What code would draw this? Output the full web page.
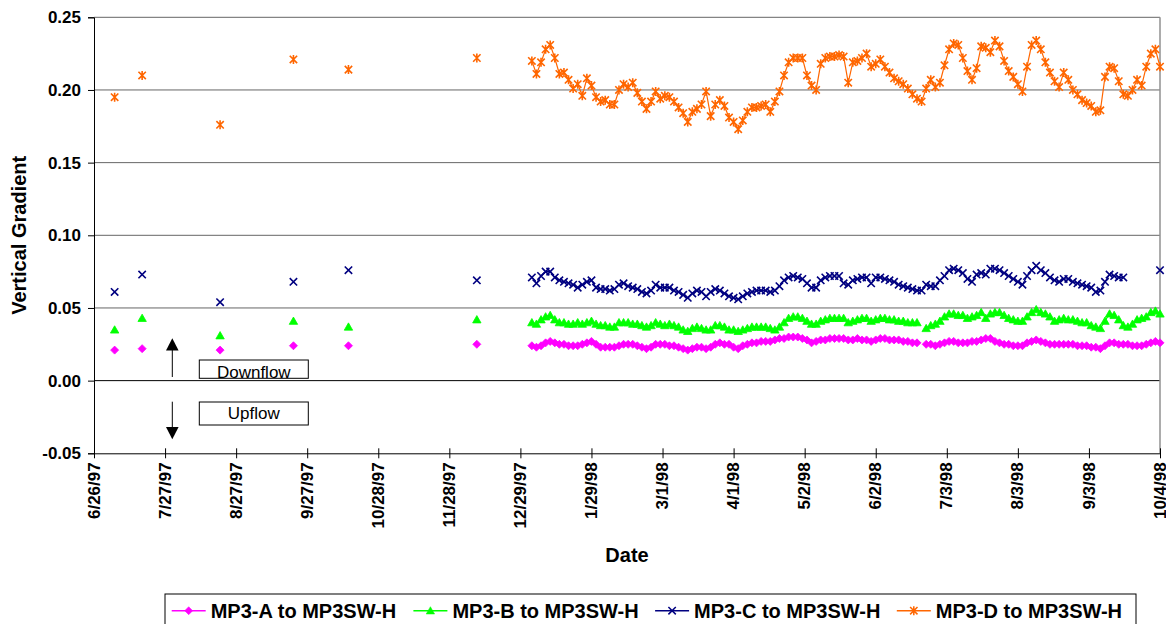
<!DOCTYPE html>
<html lang="en">
  <head>
    <meta charset="UTF-8" />
    <title>Vertical Gradient vs Date</title>
    <script src="https://d3js.org/d3.v7.min.js"></script>
    <style>
      body {
        margin: 0;
        background: #fff;
      }
      svg {
        font-family: "Liberation Sans", Arial, sans-serif;
      }
      .tick text {
        font-size: 17px;
        font-weight: bold;
        fill: #000;
      }
      .axis-title {
        font-size: 20px;
        font-weight: bold;
      }
      .legend text {
        font-size: 20px;
        font-weight: bold;
      }
      .note text {
        font-size: 17px;
      }
    </style>
  </head>
  <body>
    <div id="chart"></div>

    <script>
      // ---- data ----
      const seriesNames = [
        "MP3-A to MP3SW-H",
        "MP3-B to MP3SW-H",
        "MP3-C to MP3SW-H",
        "MP3-D to MP3SW-H",
      ];
      const seriesColors = ["#ff00ff", "#00ff00", "#000080", "#ff6600"];

      const xTickLabels = [
        "6/26/97", "7/27/97", "8/27/97", "9/27/97", "10/28/97", "11/28/97",
        "12/29/97", "1/29/98", "3/1/98", "4/1/98", "5/2/98", "6/2/98",
        "7/3/98", "8/3/98", "9/3/98", "10/4/98",
      ];
      const yTicks = [-0.05, 0, 0.05, 0.1, 0.15, 0.2, 0.25];

      // early spot readings (not joined by lines)
      const earlyDates = ["7/5/97", "7/17/97", "8/20/97", "9/21/97", "10/15/97", "12/10/97"];
      const earlyA = [0.021, 0.022, 0.021, 0.024, 0.024, 0.025];
      const earlyB = [0.035, 0.043, 0.031, 0.041, 0.037, 0.042];
      const earlyC = [0.061, 0.073, 0.054, 0.068, 0.076, 0.069];
      const earlyD = [0.195, 0.21, 0.176, 0.221, 0.214, 0.222];

      // continuous record, one reading every 2 days from 1/3/98
      const dailyStart = "1/3/98";
      const dailyStepDays = 2;

      const dailyA = [
        0.024, 0.023, 0.024, 0.026, 0.027, 0.026, 0.025, 0.025, 0.024, 0.024,
        0.024, 0.025, 0.026, 0.027, 0.025, 0.023, 0.023, 0.023, 0.023, 0.024,
        0.025, 0.025, 0.025, 0.024, 0.023, 0.022, 0.023, 0.025, 0.025, 0.025,
        0.024, 0.024, 0.023, 0.022, 0.021, 0.022, 0.023, 0.023, 0.022, 0.023,
        0.025, 0.026, 0.025, 0.025, 0.023, 0.022, 0.024, 0.025, 0.026, 0.026,
        0.027, 0.027, 0.027, 0.028, 0.029, 0.029, 0.03, 0.03, 0.03, 0.029,
        0.028, 0.026, 0.027, 0.028, 0.028, 0.029, 0.029, 0.029, 0.029, 0.028,
        0.028, 0.029, 0.028, 0.028, 0.027, 0.028, 0.029, 0.029, 0.028, 0.028,
        0.028, 0.027, 0.027, 0.026, 0.026, null, 0.025, 0.025, 0.024, 0.025,
        0.026, 0.027, 0.027, 0.026, 0.026, 0.026, 0.027, 0.027, 0.028, 0.029,
        0.029, 0.027, 0.026, 0.025, 0.025, 0.024, 0.024, 0.024, 0.026, 0.027,
        0.028, 0.027, 0.026, 0.025, 0.025, 0.025, 0.025, 0.025, 0.025, 0.024,
        0.024, 0.024, 0.023, 0.023, 0.022, 0.024, 0.026, 0.026, 0.025, 0.025,
        0.025, 0.024, 0.024, 0.024, 0.025, 0.026, 0.027, 0.026,
      ];
      const dailyB = [
        0.04, 0.039, 0.042, 0.044, 0.045, 0.042, 0.04, 0.04, 0.039, 0.039,
        0.04, 0.039, 0.04, 0.041, 0.039, 0.038, 0.038, 0.037, 0.037, 0.04,
        0.04, 0.04, 0.039, 0.039, 0.038, 0.037, 0.038, 0.04, 0.039, 0.038,
        0.039, 0.038, 0.037, 0.035, 0.034, 0.036, 0.037, 0.036, 0.035, 0.035,
        0.038, 0.038, 0.037, 0.035, 0.035, 0.034, 0.035, 0.036, 0.037, 0.037,
        0.037, 0.037, 0.036, 0.035, 0.037, 0.04, 0.043, 0.044, 0.044, 0.043,
        0.041, 0.039, 0.039, 0.041, 0.042, 0.043, 0.043, 0.043, 0.043, 0.04,
        0.041, 0.042, 0.043, 0.043, 0.041, 0.042, 0.043, 0.043, 0.042, 0.042,
        0.041, 0.041, 0.04, 0.04, 0.04, null, 0.036, 0.038, 0.039, 0.041,
        0.044, 0.046, 0.046, 0.045, 0.045, 0.043, 0.044, 0.045, 0.047, 0.043,
        0.046, 0.047, 0.047, 0.045, 0.043, 0.042, 0.041, 0.041, 0.044, 0.047,
        0.049, 0.047, 0.046, 0.044, 0.041, 0.042, 0.043, 0.042, 0.042, 0.041,
        0.04, 0.04, 0.038, 0.037, 0.036, 0.041, 0.046, 0.045, 0.042, 0.038,
        0.037, 0.039, 0.042, 0.043, 0.044, 0.047, 0.048, 0.046,
      ];
      const dailyC = [
        0.071, 0.067, 0.072, 0.075, 0.075, 0.071, 0.069, 0.068, 0.067, 0.066,
        0.064, 0.066, 0.068, 0.069, 0.064, 0.063, 0.063, 0.062, 0.063, 0.066,
        0.067, 0.065, 0.064, 0.063, 0.061, 0.06, 0.062, 0.066, 0.064, 0.064,
        0.064, 0.062, 0.061, 0.059, 0.057, 0.06, 0.062, 0.061, 0.058, 0.061,
        0.063, 0.062, 0.06, 0.058, 0.057, 0.056, 0.058, 0.06, 0.061, 0.062,
        0.062, 0.062, 0.061, 0.062, 0.065, 0.069, 0.071, 0.072, 0.071, 0.07,
        0.067, 0.064, 0.064, 0.069, 0.071, 0.072, 0.072, 0.072, 0.067, 0.066,
        0.069, 0.07, 0.071, 0.071, 0.067, 0.071, 0.071, 0.07, 0.069, 0.068,
        0.066, 0.065, 0.064, 0.063, 0.062, 0.062, 0.066, 0.065, 0.065, 0.069,
        0.072, 0.076, 0.077, 0.076, 0.074, 0.07, 0.068, 0.073, 0.074, 0.073,
        0.077, 0.077, 0.076, 0.074, 0.072, 0.07, 0.068, 0.066, 0.072, 0.076,
        0.079, 0.076, 0.074, 0.071, 0.069, 0.068, 0.07, 0.07, 0.068, 0.067,
        0.066, 0.065, 0.064, 0.061, 0.062, 0.068, 0.073, 0.072, 0.071, 0.071,
        null, null, null, null, null, null, null, 0.076,
      ];
      const dailyD = [
        0.22, 0.211, 0.219, 0.228, 0.231, 0.222, 0.211, 0.212, 0.207, 0.201,
        0.204, 0.196, 0.208, 0.203, 0.195, 0.192, 0.193, 0.19, 0.19, 0.2,
        0.204, 0.202, 0.205, 0.198, 0.192, 0.187, 0.192, 0.199, 0.194, 0.196,
        0.195, 0.192, 0.188, 0.184, 0.178, 0.185, 0.187, 0.19, 0.199, 0.182,
        0.19, 0.193, 0.189, 0.181, 0.178, 0.173, 0.179, 0.185, 0.188, 0.188,
        0.189, 0.19, 0.185, 0.192, 0.199, 0.21, 0.219, 0.222, 0.222, 0.222,
        0.21, 0.203, 0.2, 0.218, 0.222, 0.223, 0.223, 0.224, 0.223, 0.205,
        0.219, 0.22, 0.222, 0.225, 0.216, 0.218, 0.221, 0.216, 0.212, 0.208,
        0.206, 0.204, 0.201, 0.197, 0.194, 0.192, 0.201, 0.207, 0.202, 0.205,
        0.217, 0.228, 0.232, 0.231, 0.222, 0.213, 0.207, 0.215, 0.23, 0.229,
        0.226, 0.234, 0.23, 0.22, 0.213, 0.209, 0.204, 0.199, 0.216, 0.231,
        0.234, 0.228, 0.219, 0.212, 0.206, 0.202, 0.212, 0.207, 0.2, 0.197,
        0.193, 0.191, 0.189, 0.185, 0.186, 0.209, 0.216, 0.215, 0.206, 0.197,
        0.196, 0.2, 0.207, 0.203, 0.216, 0.225, 0.228, 0.216,
      ];

      const earlyValues = [earlyA, earlyB, earlyC, earlyD];
      const dailyValues = [dailyA, dailyB, dailyC, dailyD];

      // ---- layout ----
      const width = 1166;
      const height = 624;
      const plot = { left: 94, right: 1160, top: 17.3, bottom: 453.3 };

      const parseDate = d3.timeParse("%m/%d/%y");

      const x = d3
        .scaleTime()
        .domain([parseDate("6/26/97"), parseDate("10/4/98")])
        .range([plot.left, plot.right]);

      const y = d3
        .scaleLinear()
        .domain([-0.05, 0.25])
        .range([plot.bottom, plot.top]);

      const svg = d3
        .select("#chart")
        .append("svg")
        .attr("width", width)
        .attr("height", height);

      // gridlines
      svg
        .append("g")
        .selectAll("line")
        .data(yTicks.filter((d) => d > -0.05))
        .enter()
        .append("line")
        .attr("x1", plot.left)
        .attr("x2", plot.right)
        .attr("y1", (d) => y(d))
        .attr("y2", (d) => y(d))
        .attr("stroke", (d) => (d === 0 ? "#000" : "#666"))
        .attr("stroke-width", 1);

      // right border of plot area
      svg
        .append("line")
        .attr("x1", plot.right)
        .attr("x2", plot.right)
        .attr("y1", plot.top)
        .attr("y2", plot.bottom)
        .attr("stroke", "#909090")
        .attr("stroke-width", 1.5);

      // y axis
      const yAxis = svg
        .append("g")
        .attr("transform", `translate(${plot.left},0)`)
        .call(
          d3
            .axisLeft(y)
            .tickValues(yTicks)
            .tickSize(6)
            .tickPadding(7)
            .tickFormat((d) => d.toFixed(2))
        );
      yAxis.select(".domain").attr("stroke", "#000");

      // x axis
      const xTickDates = xTickLabels.map(parseDate);
      const xAxis = svg
        .append("g")
        .attr("transform", `translate(0,${plot.bottom})`)
        .call(
          d3
            .axisBottom(x)
            .tickValues(xTickDates)
            .tickSizeOuter(0)
            .tickFormat((d, i) => xTickLabels[i])
        );
      xAxis.selectAll(".tick line").attr("y1", -5).attr("y2", 5);
      xAxis
        .selectAll(".tick text")
        .attr("transform", "rotate(-90)")
        .attr("text-anchor", "end")
        .attr("x", -9)
        .attr("y", 0)
        .attr("dy", "0.3em");

      // axis titles
      svg
        .append("text")
        .attr("class", "axis-title")
        .attr("transform", `translate(19,${(plot.top + plot.bottom) / 2}) rotate(-90)`)
        .attr("text-anchor", "middle")
        .attr("dy", "0.35em")
        .text("Vertical Gradient");

      svg
        .append("text")
        .attr("class", "axis-title")
        .attr("x", (plot.left + plot.right) / 2)
        .attr("y", 561.5)
        .attr("text-anchor", "middle")
        .text("Date");

      // marker shapes
      const markers = [
        "M0,-4L4,0L0,4L-4,0Z",
        "M0,-4L4.2,3.3L-4.2,3.3Z",
        "M-3.7,-3.7L3.7,3.7M-3.7,3.7L3.7,-3.7",
        "M-3.7,-3.7L3.7,3.7M-3.7,3.7L3.7,-3.7M0,-4.5L0,4.5",
      ];
      const filled = [true, true, false, false];

      function drawMarkers(g, pts, i) {
        g.selectAll("path.m")
          .data(pts)
          .enter()
          .append("path")
          .attr("class", "m")
          .attr("d", markers[i])
          .attr("transform", (d) => `translate(${x(d.date)},${y(d.v)})`)
          .attr("fill", filled[i] ? seriesColors[i] : "none")
          .attr("stroke", seriesColors[i])
          .attr("stroke-width", filled[i] ? 0.8 : 1.6);
      }

      const line = d3
        .line()
        .defined((d) => d.v != null)
        .x((d) => x(d.date))
        .y((d) => y(d.v));

      const startDate = parseDate(dailyStart);

      seriesNames.forEach((name, i) => {
        const g = svg.append("g").attr("class", "series");

        const early = earlyDates.map((d, j) => ({ date: parseDate(d), v: earlyValues[i][j] }));
        const daily = dailyValues[i].map((v, j) => ({
          date: d3.timeDay.offset(startDate, j * dailyStepDays),
          v: v,
        }));

        g.append("path")
          .datum(daily)
          .attr("d", line)
          .attr("fill", "none")
          .attr("stroke", seriesColors[i])
          .attr("stroke-width", 1.2);

        drawMarkers(g, early.concat(daily.filter((d) => d.v != null)), i);
      });

      // Downflow / Upflow note
      const note = svg.append("g").attr("class", "note");
      const arrowX = 172.3;
      note
        .append("line")
        .attr("x1", arrowX)
        .attr("x2", arrowX)
        .attr("y1", 377)
        .attr("y2", 349)
        .attr("stroke", "#000");
      note
        .append("path")
        .attr("d", `M${arrowX},338.3L${arrowX + 6.3},350.5L${arrowX - 6.3},350.5Z`)
        .attr("fill", "#000");
      note
        .append("line")
        .attr("x1", arrowX)
        .attr("x2", arrowX)
        .attr("y1", 401.7)
        .attr("y2", 428)
        .attr("stroke", "#000");
      note
        .append("path")
        .attr("d", `M${arrowX},439.3L${arrowX + 6.3},427L${arrowX - 6.3},427Z`)
        .attr("fill", "#000");

      const boxes = [
        { label: "Downflow", y: 360, h: 18.3, base: 378 },
        { label: "Upflow", y: 402, h: 23, base: 419.3 },
      ];
      boxes.forEach((b) => {
        note
          .append("rect")
          .attr("x", 199.3)
          .attr("y", b.y)
          .attr("width", 109)
          .attr("height", b.h)
          .attr("fill", "#fff")
          .attr("stroke", "#000")
          .attr("stroke-width", 1);
        note
          .append("text")
          .attr("x", 253.8)
          .attr("y", b.base)
          .attr("text-anchor", "middle")
          .text(b.label);
      });

      // legend
      const legend = svg.append("g").attr("class", "legend");
      legend
        .append("rect")
        .attr("x", 165)
        .attr("y", 594)
        .attr("width", 971)
        .attr("height", 40)
        .attr("fill", "#fff")
        .attr("stroke", "#000")
        .attr("stroke-width", 1);

      const items = legend
        .selectAll(".legend-item")
        .data(seriesNames)
        .enter()
        .append("g")
        .attr("class", "legend-item")
        .attr("transform", (d, i) => `translate(${171.7 + i * 241.7},610.7)`);

      items
        .append("line")
        .attr("x1", 0)
        .attr("x2", 34)
        .attr("stroke", (d, i) => seriesColors[i])
        .attr("stroke-width", 1.5);

      items
        .append("path")
        .attr("d", (d, i) => markers[i])
        .attr("transform", "translate(17,0)")
        .attr("fill", (d, i) => (filled[i] ? seriesColors[i] : "none"))
        .attr("stroke", (d, i) => seriesColors[i])
        .attr("stroke-width", (d, i) => (filled[i] ? 0.5 : 1.5));

      items
        .append("text")
        .attr("x", 39)
        .attr("y", 7.6)
        .text((d) => d);
    </script>
  </body>
</html>
